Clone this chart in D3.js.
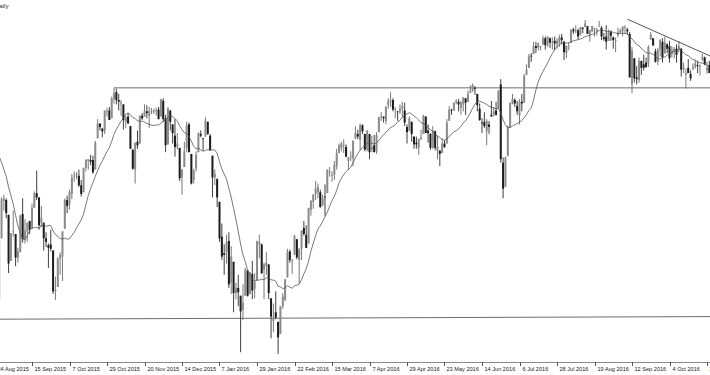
<!DOCTYPE html>
<html lang="en">
<head>
  <meta charset="UTF-8">
  <title>US500 Daily</title>
  <script src="https://cdnjs.cloudflare.com/ajax/libs/d3/7.8.5/d3.min.js"></script>
  <style>
    html, body { margin: 0; padding: 0; background: #fff; }
    svg { display: block; }
    .tick-label { font-family: "Liberation Sans", Arial, sans-serif; font-size: 5.6px; fill: #222; }
    .title { font-family: "Liberation Sans", Arial, sans-serif; font-size: 6.2px; fill: #2a2a2a; }
  </style>
</head>
<body>
  <svg id="chart" width="710" height="375"></svg>
  <script>
    // bars start 6 Aug 2015 (first 12 bars sit left of the visible area, they feed the MA)
    const startDay = "2015-08-06"
    const noBarDays = ["2015-12-25", "2016-01-01", "2016-03-25"]

    // one row per week
    const opens = [
      2100,2083, 2078,2103,2083,2086,2083, 2090,2102,2096,2077,2034,
      1965,1898,1873,1943,1986, 1987,1970,1917,1951,1948, 1921,1927,1971,1942,1951,
      1963,1955,1978,1995,1990, 1961,1961,1943,1935,1936, 1929,1882,1887,1920,1922,
      1954,1987,1982,1994,2014, 2016,2015,2004,1996,2024, 2032,2033,2033,2022,2058,
      2075,2069,2066,2088,2090, 2081,2103,2111,2102,2099, 2097,2077,2083,2072,2045,
      2022,2054,2052,2084,2083, 2089,2084,2089,2089,2089, 2091,2083,2101,2081,2051,
      2090,2074,2061,2048,2047, 2013,2025,2047,2074,2040, 2010,2023,2042,2063,
      2058,2060,2077,2061, 2038,2013,2011,1985,1945, 1926,1927,1940,1892,1916,
      1880,1886,1877,1861,1877, 1906,1879,1902,1885,1895, 1936,1936,1907,1911,1913,
      1874,1848,1858,1847,1833, 1865,1872,1898,1928,1917, 1924,1942,1918,1931,1955,
      1947,1937,1976,1985,1994, 1996,1996,1981,1991,1995, 2019,2015,2016,2026,2041,
      2047,2049,2048,2032, 2037,2035,2058,2063,2056, 2073,2063,2045,2063,2045,
      2050,2043,2065,2082,2083, 2078,2096,2101,2102,2091, 2089,2089,2092,2090,2071,
      2067,2077,2060,2053,2047, 2057,2063,2083,2067,2063, 2047,2066,2044,2044,2041,
      2052,2052,2078,2091,2090, 2099,2100,2093,2097,2104, 2100,2110,2112,2116,2109,
      2092,2076,2077,2066,2074, 2085,2085,2090,2093,2120, 2030,2002,2038,2071,2098,
      2102,2095,2084,2100,2099, 2131,2139,2153,2155,2164, 2162,2164,2166,2173,2166,
      2173,2168,2170,2166,2168, 2174,2169,2156,2163,2168, 2183,2182,2182,2177,2185,
      2186,2187,2177,2181,2184, 2181,2187,2185,2174,2175, 2170,2180,2174,2171,2177,
      2180,2181,2186,2183,2178, 2120,2150,2128,2125,2147, 2143,2145,2144,2172,2173,
      2158,2146,2160,2169,2156, 2166,2164,2155,2158,2161, 2160,2161,2137,2131,2139,
      2132,2138,2140,2142,2140, 2149,2151,2136,2142
    ]
    const highs = [
      2104,2083, 2105,2103,2089,2093,2092, 2103,2103,2096,2077,2034,
      1965,1948,1943,1990,1993, 1989,1970,1949,1975,1948, 1932,1970,1989,1965,1961,
      1963,1983,1997,2021,1990, 1980,1961,1950,1937,1953, 1929,1899,1921,1927,1951,
      1989,1992,1999,2017,2020, 2019,2022,2010,2024,2034, 2034,2039,2038,2055,2080,
      2075,2070,2090,2093,2094, 2106,2116,2115,2109,2102, 2097,2084,2087,2072,2045,
      2053,2067,2083,2087,2097, 2096,2094,2093,2092,2093, 2094,2103,2104,2085,2094,
      2090,2074,2080,2064,2047, 2023,2054,2077,2076,2040, 2023,2043,2065,2067,
      2058,2082,2077,2063, 2038,2022,2012,1985,1960, 1936,1947,1950,1934,1916,
      1892,1901,1877,1890,1909, 1906,1904,1917,1903,1940, 1947,1937,1915,1927,1913,
      1874,1868,1882,1847,1865, 1880,1896,1931,1930,1919, 1947,1942,1932,1952,1963,
      1958,1978,1987,1994,2009, 2006,1999,1993,2005,2022, 2025,2020,2032,2046,2052,
      2054,2057,2051,2036, 2043,2056,2072,2068,2075, 2074,2063,2067,2063,2061,
      2062,2065,2083,2088,2083, 2095,2104,2111,2104,2094, 2089,2097,2100,2099,2074,
      2083,2077,2060,2060,2058, 2068,2085,2083,2074,2064, 2072,2067,2061,2044,2058,
      2056,2080,2095,2092,2099, 2103,2103,2101,2105,2104, 2113,2119,2121,2118,2109,
      2098,2081,2088,2080,2078, 2101,2094,2100,2113,2126, 2036,2037,2073,2099,2109,
      2104,2101,2103,2109,2132, 2143,2155,2156,2169,2169, 2168,2164,2176,2175,2175,
      2174,2174,2175,2173,2177, 2178,2170,2165,2168,2183, 2185,2188,2184,2186,2186,
      2194,2187,2183,2187,2185, 2185,2193,2187,2179,2188, 2183,2182,2175,2174,2185,
      2184,2187,2188,2185,2180, 2163,2150,2141,2151,2147, 2154,2151,2165,2180,2173,
      2161,2162,2172,2173,2175, 2167,2170,2164,2163,2166, 2170,2162,2145,2138,2149,
      2136,2144,2148,2147,2143, 2155,2152,2146,2147
    ]
    const lows = [
      2077,2067, 2078,2076,2052,2076,2080, 2079,2094,2070,2035,1971,
      1867,1867,1873,1943,1975, 1966,1903,1917,1945,1911, 1915,1927,1938,1937,1939,
      1948,1954,1978,1987,1953, 1956,1929,1933,1909,1928, 1879,1872,1887,1901,1894,
      1954,1972,1976,1988,2008, 2011,2002,1991,1996,2020, 2022,2027,2017,2022,2058,
      2067,2059,2063,2083,2079, 2081,2098,2097,2090,2084, 2068,2070,2075,2046,2022,
      2006,2046,2052,2079,2083, 2081,2070,2086,2086,2084, 2080,2083,2077,2042,2051,
      2067,2052,2037,2045,2009, 1993,2025,2042,2042,2005, 2006,2020,2042,2059,
      2044,2060,2062,2044, 1990,2004,1979,1939,1918, 1901,1914,1886,1879,1858,
      1873,1865,1812,1849,1877, 1876,1879,1873,1874,1894, 1920,1902,1873,1901,1873,
      1828,1835,1850,1810,1833, 1862,1871,1898,1915,1902, 1924,1919,1891,1918,1946,
      1932,1937,1969,1977,1987, 1989,1978,1980,1969,1995, 2014,2008,2010,2022,2041,
      2043,2041,2036,2022, 2032,2026,2057,2057,2044, 2063,2043,2043,2034,2042,
      2042,2040,2065,2078,2076, 2074,2092,2094,2089,2081, 2078,2086,2082,2072,2052,
      2066,2054,2046,2046,2039, 2056,2063,2064,2053,2045, 2046,2044,2034,2026,2041,
      2047,2052,2078,2085,2090, 2097,2089,2085,2089,2085, 2100,2110,2112,2108,2089,
      2078,2064,2070,2050,2063, 2083,2083,2084,2092,2030, 1989,2002,2037,2070,2097,
      2094,2085,2074,2089,2099, 2131,2139,2146,2155,2156, 2159,2159,2165,2160,2163,
      2162,2160,2159,2161,2163, 2166,2148,2150,2159,2168, 2178,2179,2172,2176,2179,
      2186,2178,2169,2180,2175, 2176,2187,2171,2170,2160, 2170,2170,2161,2157,2174,
      2178,2175,2179,2177,2128, 2110,2122,2120,2122,2131, 2136,2139,2140,2171,2164,
      2145,2142,2152,2145,2155, 2156,2145,2151,2150,2145, 2157,2129,2133,2115,2133,
      2124,2136,2138,2133,2130, 2147,2142,2132,2133
    ]
    const closes = [
      2084,2078, 2104,2084,2086,2083,2092, 2102,2097,2080,2036,1971,
      1893,1868,1941,1988,1989, 1972,1914,1949,1951,1921, 1928,1969,1942,1952,1961,
      1953,1978,1995,1990,1958, 1967,1943,1939,1932,1931, 1882,1884,1920,1924,1951,
      1987,1980,1996,2013,2015, 2017,2004,1994,2024,2033, 2034,2031,2019,2053,2075,
      2071,2066,2090,2089,2079, 2104,2110,2102,2100,2099, 2079,2082,2075,2046,2023,
      2053,2050,2084,2081,2089, 2087,2089,2089,2090,2090, 2080,2103,2080,2050,2092,
      2077,2064,2048,2052,2012, 2022,2043,2073,2042,2006, 2021,2039,2064,2061,
      2057,2078,2063,2044, 2013,2017,1990,1943,1922, 1924,1939,1890,1922,1880,
      1886,1881,1859,1869,1907, 1877,1904,1883,1893,1940, 1939,1903,1913,1915,1880,
      1853,1852,1852,1829,1865, 1876,1896,1927,1918,1918, 1946,1921,1930,1952,1948,
      1932,1978,1986,1993,2000, 2002,1979,1989,1990,2022, 2020,2016,2027,2041,2050,
      2052,2050,2037,2036, 2037,2055,2064,2060,2073, 2066,2045,2067,2042,2048,
      2042,2062,2082,2083,2081, 2094,2101,2102,2091,2092, 2088,2092,2095,2076,2065,
      2081,2063,2051,2051,2057, 2059,2084,2064,2064,2047, 2067,2047,2048,2040,2052,
      2048,2076,2091,2090,2099, 2101,2097,2099,2105,2099, 2109,2112,2119,2115,2096,
      2079,2075,2072,2078,2071, 2083,2089,2085,2113,2034, 2000,2036,2071,2099,2103,
      2098,2089,2100,2098,2130, 2137,2152,2152,2164,2162, 2167,2164,2173,2165,2175,
      2168,2169,2167,2170,2174, 2171,2157,2164,2164,2183, 2181,2182,2175,2186,2184,
      2190,2178,2182,2187,2184, 2183,2187,2175,2172,2169, 2180,2176,2171,2171,2180,
      2182,2186,2186,2181,2128, 2159,2127,2126,2147,2139, 2139,2140,2163,2177,2165,
      2146,2160,2171,2151,2168, 2161,2150,2160,2161,2154, 2164,2137,2139,2133,2133,
      2127,2140,2144,2141,2141, 2151,2143,2139,2133
    ]

    const maPeriod = 14

    // drawn lines, as [bar date, price] pairs
    const resistance = [["2015-11-03", 2116], ["2016-10-27", 2116]]
    const support = [["2015-08-24", 1850], ["2016-10-27", 1853]]
    const trend = [["2016-09-08", 2195], ["2016-10-27", 2153]]

    const W = 710, H = 375, axisY = 362

    // trading days
    const fmtKey = d3.utcFormat("%Y-%m-%d")
    const dates = []
    let day = d3.utcParse("%Y-%m-%d")(startDay)
    while (dates.length < closes.length) {
      const wd = day.getUTCDay()
      if (wd !== 0 && wd !== 6 && !noBarDays.includes(fmtKey(day))) dates.push(day)
      day = d3.utcDay.offset(day, 1)
    }
    const idxOf = s => dates.findIndex(d => fmtKey(d) === s)
    const first = idxOf("2015-08-24")

    const bars = closes.map((c, i) => ({ i, date: dates[i], o: opens[i], h: highs[i], l: lows[i], c }))

    const x = d3.scaleLinear().domain([first, first + 304]).range([-5.5, 707])
    const y = d3.scaleLinear().domain([1810, 2194]).range([354, 20])

    const svg = d3.select("#chart")
    svg.append("rect").attr("width", W).attr("height", H).attr("fill", "#fff")

    svg.append("clipPath").attr("id", "plot")
      .append("rect").attr("x", 0).attr("y", 0).attr("width", W).attr("height", axisY)

    const g = svg.append("g").attr("clip-path", "url(#plot)")

    // support / resistance / trend lines, run a little past the last bar
    const drawLine = (pts, color) => {
      const x1 = x(idxOf(pts[0][0])), y1 = y(pts[0][1])
      const x2 = x(idxOf(pts[1][0])), y2 = y(pts[1][1])
      const k = (y2 - y1) / (x2 - x1)
      g.append("line")
        .attr("x1", x1).attr("y1", y1)
        .attr("x2", x2 + 6).attr("y2", y2 + k * 6)
        .attr("stroke", color).attr("stroke-width", 1)
    }
    drawLine(resistance, "#6e6e6e")
    drawLine(support, "#6e6e6e")
    drawLine(trend, "#555")

    // candles
    const bw = 2
    const candle = g.selectAll("g.bar").data(bars).join("g").attr("class", "bar")
    candle.append("line")
      .attr("x1", d => x(d.i)).attr("x2", d => x(d.i))
      .attr("y1", d => y(Math.max(d.h, d.o, d.c))).attr("y2", d => y(Math.min(d.l, d.o, d.c)))
      .attr("stroke", d => d.c >= d.o ? "#6a6a6a" : "#2a2a2a")
      .attr("stroke-width", 0.9)
    candle.append("rect")
      .attr("x", d => x(d.i) - bw / 2)
      .attr("y", d => y(Math.max(d.o, d.c)))
      .attr("width", bw)
      .attr("height", d => Math.max(0.8, Math.abs(y(d.o) - y(d.c))))
      .attr("fill", d => d.c >= d.o ? "#8c8c8c" : "#1c1c1c")

    // moving average of closes
    const ma = bars.slice(maPeriod - 1).map(b => ({
      i: b.i,
      v: d3.mean(closes.slice(b.i - maPeriod + 1, b.i + 1))
    }))
    g.append("path").datum(ma)
      .attr("fill", "none").attr("stroke", "#555").attr("stroke-width", 0.8)
      .attr("d", d3.line().x(d => x(d.i)).y(d => y(d.v)))

    // time axis
    svg.append("line").attr("x1", 0).attr("x2", W).attr("y1", axisY + 0.5).attr("y2", axisY + 0.5)
      .attr("stroke", "#8a8a8a").attr("stroke-width", 1)
    const fmt = d3.utcFormat("%-d %b %Y")
    const ticks = d3.range(first, bars.length, 16)
    const tk = svg.selectAll("g.tk").data(ticks).join("g").attr("class", "tk")
      .attr("transform", i => `translate(${Math.round(x(i)) + 0.5},0)`)
    tk.append("line").attr("y1", axisY).attr("y2", axisY + 4).attr("stroke", "#555")
    tk.append("text").attr("class", "tick-label").attr("x", 2).attr("y", 370.5)
      .text(i => fmt(dates[i]))

    svg.append("text").attr("class", "title").attr("x", 8.5).attr("y", 8)
      .attr("text-anchor", "end").text("US500,Daily")
  </script>
</body>
</html>
